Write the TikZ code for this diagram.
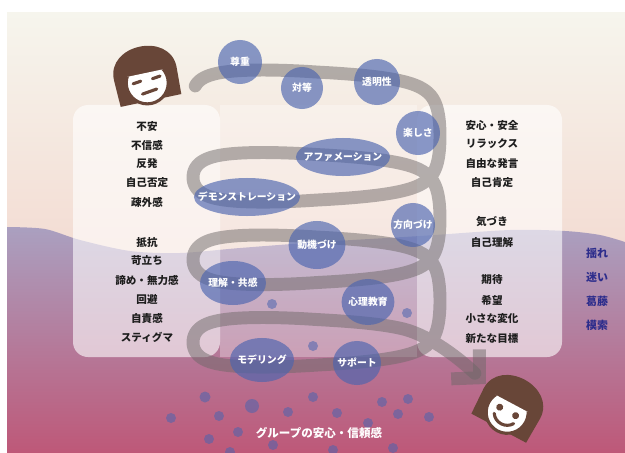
\documentclass[tikz,border=0pt]{standalone}
\usepackage{fontspec}
\setmainfont{Noto Sans CJK JP}
\usepackage{tikz}
\usetikzlibrary{shapes.geometric, arrows.meta, positioning}
\definecolor{mycream}{RGB}{246,245,237}
\definecolor{mypeach}{RGB}{243,219,210}
\definecolor{mylilac}{RGB}{170,160,192}
\definecolor{mymauve}{RGB}{181,128,160}
\definecolor{myrose}{RGB}{190,88,120}
\definecolor{myband}{RGB}{110,104,104}
\definecolor{mybub}{RGB}{75,100,175}
\definecolor{myhair}{RGB}{104,70,56}
\definecolor{myink}{RGB}{30,30,30}
\definecolor{myindigo}{RGB}{45,45,140}
\tikzset{
  oval/.style={ellipse, fill=mybub, fill opacity=0.65, inner sep=0pt},
  bubtext/.style={text=white, text opacity=1, fill opacity=1,
    font=\bfseries\fontsize{7}{8}\selectfont, inner sep=0pt},
  dot/.style={fill=mybub, fill opacity=0.55},
  panel/.style={fill=white, fill opacity=0.6, rounded corners=0.375cm},
  column/.style={fill=white, fill opacity=0.3},
  item/.style={text=myink, font=\bfseries\fontsize{7.5}{9}\selectfont, inner sep=0pt},
  mood/.style={text=myindigo, font=\bfseries\fontsize{7.8}{9}\selectfont, inner sep=0pt},
  band/.style={draw=myband, draw opacity=0.5, line width=9.2pt, line cap=round},
  face/.style={draw=myhair, line width=2.2pt, line cap=round}
}

\begin{document}
\begin{tikzpicture}[x={(0.025cm,0)}, y={(0,-0.025cm)}]
  \useasboundingbox (0,0) rectangle (625,453);
  \fill[white] (0,0) rectangle (625,453);

  % Background: warm sky and the wavy lower part
  \shade[top color=mycream, bottom color=mypeach] (7,13) rectangle (625,260);
  \shade[top color=mylilac, middle color=mymauve, bottom color=myrose]
    plot[smooth] coordinates {(7,227) (45,229) (80,240) (130,251) (180,253)
      (240,248) (320,242) (420,236) (510,230) (565,231) (600,235) (625,242)}
    -- (625,453) -- (7,453) -- cycle;

  % Two panels and the light strip between them
  \fill[panel] (73,105) rectangle (220,357);
  \fill[panel] (417,105) rectangle (562,357);
  \fill[column] (220,105) rectangle (417,357);

  % The spiral band ending in an arrow
  \draw[band, -{Straight Barb[length=14pt, width=29pt]}]
    plot[domain=0.3:20.85, samples=420, smooth, variable=\t]
      ({316.5-123.5*(tanh(1.3*max(cos(\t r),0))/0.8617+tanh(2*min(cos(\t r),0))/0.964)},
       {94.8+13.13*\t-43.4*sin(\t r)})
    .. controls (431,336) and (461,360) .. (486,384);

  % Bubbles along the spiral
  \node[oval, minimum width=1.1cm, minimum height=1.1cm, label={[bubtext]center:尊重}] (sonchou) at (240,62) {};
  \node[oval, minimum width=1.05cm, minimum height=1.05cm, label={[bubtext]center:対等}] (taitou) at (302,88) {};
  \node[oval, minimum width=1.15cm, minimum height=1.15cm, label={[bubtext]center:透明性}] (toumei) at (377,82) {};
  \node[oval, minimum width=1.1cm, minimum height=1.1cm, label={[bubtext]center:楽しさ}] (tanoshisa) at (418,133) {};
  \node[oval, minimum width=2.35cm, minimum height=0.95cm, label={[bubtext]center:アファメーション}] (affirm) at (343,157) {};
  \node[oval, minimum width=2.65cm, minimum height=0.95cm, label={[bubtext]center:デモンストレーション}] (demo) at (247,197) {};
  \node[oval, minimum width=1.1cm, minimum height=1.1cm, label={[bubtext]center:方向づけ}] (houkou) at (413,225) {};
  \node[oval, minimum width=1.42cm, minimum height=1.2cm, label={[bubtext]center:動機づけ}] (douki) at (317,245) {};
  \node[oval, minimum width=1.65cm, minimum height=1.1cm, label={[bubtext]center:理解・共感}] (rikai) at (233,283) {};
  \node[oval, minimum width=1.32cm, minimum height=1.15cm, label={[bubtext]center:心理教育}] (shinri) at (368,302) {};
  \node[oval, minimum width=1.6cm, minimum height=1.1cm, label={[bubtext]center:モデリング}] (model) at (262,360) {};
  \node[oval, minimum width=1.2cm, minimum height=1.1cm, label={[bubtext]center:サポート}] (support) at (357,363) {};

  % Small dots
  \foreach \x/\y/\r in {272/304/5, 407/313/5, 313/346/5, 205/397/5.5, 252/406/7,
      288/412/5, 219/416/5, 171/418/5, 313/397/5, 337/413/5, 382/402/5, 408/399/5,
      398/414/5, 429/417/5, 368/423/5, 238/432/5, 209/439/5, 273/445/5, 393/448/5,
      333/450/5, 230/452/5}
    \fill[dot] (\x,\y) circle (\r);

  % Left list
  \foreach \y/\txt [count=\i] in {126/不安, 145/不信感, 164/反発, 183/自己否定, 202/疎外感,
      242/抵抗, 261/苛立ち, 280/諦め・無力感, 299/回避, 318/自責感, 337/スティグマ}
    \node[item] (neg\i) at (147,\y) {\txt};

  % Right list
  \foreach \y/\txt [count=\i] in {125/安心・安全, 144/リラックス, 164/自由な発言, 183/自己肯定,
      222/気づき, 242/自己理解, 280/期待, 300/希望, 319/小さな変化, 338/新たな目標}
    \node[item] (pos\i) at (492,\y) {\txt};

  % Side words
  \foreach \y/\txt [count=\i] in {253/揺れ, 277/迷い, 301/葛藤, 325/模索}
    \node[mood] (mood\i) at (597,\y) {\txt};

  \node[text=white, font=\bfseries\fontsize{8.2}{10}\selectfont] (trust) at (319,433) {グループの安心・信頼感};

  % Face at the start
  \begin{scope}[shift={(146,77)}, rotate=12]
    \fill[myhair] (-31,24) -- (-32,-4) .. controls (-32,-40) and (32,-40) .. (32,-4) -- (31,24) -- cycle;
    \begin{scope}
      \clip (-40,-4) rectangle (40,40);
      \filldraw[face, fill=white] (0,6) circle (21);
    \end{scope}
    \draw[face] (-14,4) -- (-6,3) (6,3) -- (14,2);
    \draw[face] (-7,16) -- (8,14);
  \end{scope}

  % Face at the end
  \begin{scope}[shift={(510,407)}, rotate=-28]
    \fill[myhair] (-31,24) -- (-32,-4) .. controls (-32,-40) and (32,-40) .. (32,-4) -- (31,24) -- cycle;
    \begin{scope}
      \clip (-40,-4) rectangle (40,40);
      \filldraw[face, fill=white] (0,6) circle (21);
    \end{scope}
    \fill[myhair] (-9,5) circle (3.5) (9,5) circle (3.5);
    \draw[face] (-11,13) .. controls (-6,21) and (6,21) .. (11,13);
  \end{scope}
\end{tikzpicture}
\end{document}
